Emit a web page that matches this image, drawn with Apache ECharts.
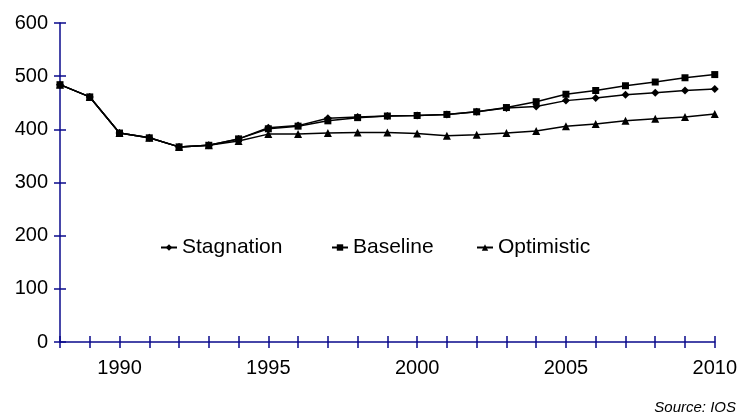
<!DOCTYPE html>
<html>
<head>
<meta charset="utf-8">
<script src="https://cdn.jsdelivr.net/npm/echarts@6/dist/echarts.min.js"></script>
<style>
  html, body { margin: 0; padding: 0; background: #fff; }
  #chart { width: 740px; height: 419px; }
</style>
</head>
<body>
<div id="chart"></div>
<script>
// Years on the horizontal axis
const years = [1988, 1989, 1990, 1991, 1992, 1993, 1994, 1995, 1996, 1997, 1998,
               1999, 2000, 2001, 2002, 2003, 2004, 2005, 2006, 2007, 2008, 2009, 2010];

// Scenario values
const stagnation = [484, 461, 393, 384, 367, 370, 382, 403, 407, 421, 423,
                    425, 426, 428, 433, 440, 443, 454, 459, 465, 469, 473, 476];
const baseline   = [484, 461, 393, 384, 367, 370, 382, 401, 406, 416, 422,
                    425, 426, 428, 433, 441, 452, 466, 473, 482, 489, 497, 503];
const optimistic = [484, 461, 393, 384, 367, 370, 378, 391, 391, 393, 394,
                    394, 392, 388, 390, 393, 397, 406, 410, 416, 420, 423, 429];

const yTicks = [0, 100, 200, 300, 400, 500, 600];
const xLabelYears = [1990, 1995, 2000, 2005, 2010];

const FONT = '"Liberation Sans", Arial, sans-serif';
const AXIS_COLOR = '#0a0a8c';

const pairs = vals => years.map((y, i) => [y, vals[i]]);

const chart = echarts.init(document.getElementById('chart'), null, { renderer: 'canvas' });

const grid = { left: 60, right: 25, top: 23, bottom: 77 };

// Each axis is drawn twice (outer ticks + inner ticks) so the ticks cross the axis line
function xAxisDef(inside, showLabel) {
  return {
    type: 'value',
    position: 'bottom',
    min: years[0],
    max: years[years.length - 1],
    interval: 1,
    axisLine: { show: !inside, onZero: false, lineStyle: { color: AXIS_COLOR, width: 1.5 } },
    axisTick: { show: true, inside: inside, length: 6, lineStyle: { color: AXIS_COLOR, width: 1.5 } },
    splitLine: { show: false },
    axisLabel: {
      show: showLabel,
      margin: 16,
      color: '#000',
      fontFamily: FONT,
      fontSize: 20,
      formatter: v => (xLabelYears.indexOf(v) >= 0 ? String(v) : '')
    }
  };
}

function yAxisDef(inside, showLabel) {
  return {
    type: 'value',
    position: 'left',
    min: yTicks[0],
    max: yTicks[yTicks.length - 1],
    interval: 100,
    axisLine: { show: !inside, onZero: false, lineStyle: { color: AXIS_COLOR, width: 1.5 } },
    axisTick: { show: true, inside: inside, length: 6, lineStyle: { color: AXIS_COLOR, width: 1.5 } },
    splitLine: { show: false },
    axisLabel: {
      show: showLabel,
      margin: 12,
      color: '#000',
      fontFamily: FONT,
      fontSize: 20
    }
  };
}

function lineSeries(name, vals, symbol, size, z) {
  return {
    name: name,
    type: 'line',
    data: pairs(vals),
    symbol: symbol,
    symbolSize: size,
    showSymbol: true,
    z: z,
    lineStyle: { color: '#000', width: 1.5 },
    itemStyle: { color: '#000', borderColor: '#000', borderWidth: 0 },
    emphasis: { disabled: true },
    animation: false
  };
}

function legendDef(name, left) {
  return {
    data: [name],
    left: left,
    top: 232,
    itemWidth: 16,
    itemHeight: 8,
    itemGap: 0,
    textStyle: { color: '#000', fontFamily: FONT, fontSize: 21 },
    selectedMode: false
  };
}

chart.setOption({
  backgroundColor: '#fff',
  animation: false,
  grid: grid,
  xAxis: [xAxisDef(false, true), xAxisDef(true, false)],
  yAxis: [yAxisDef(false, true), yAxisDef(true, false)],
  legend: [
    legendDef('Stagnation', 155),
    legendDef('Baseline', 326),
    legendDef('Optimistic', 471)
  ],
  graphic: [{
    type: 'text',
    right: 4,
    bottom: 4,
    style: {
      text: 'Source: IOS',
      fill: '#000',
      font: 'italic 15px ' + FONT
    }
  }],
  series: [
    lineSeries('Stagnation', stagnation, 'diamond', 8, 3),
    lineSeries('Optimistic', optimistic, 'triangle', 8, 2),
    lineSeries('Baseline', baseline, 'rect', 7, 4)
  ]
});
</script>
</body>
</html>
